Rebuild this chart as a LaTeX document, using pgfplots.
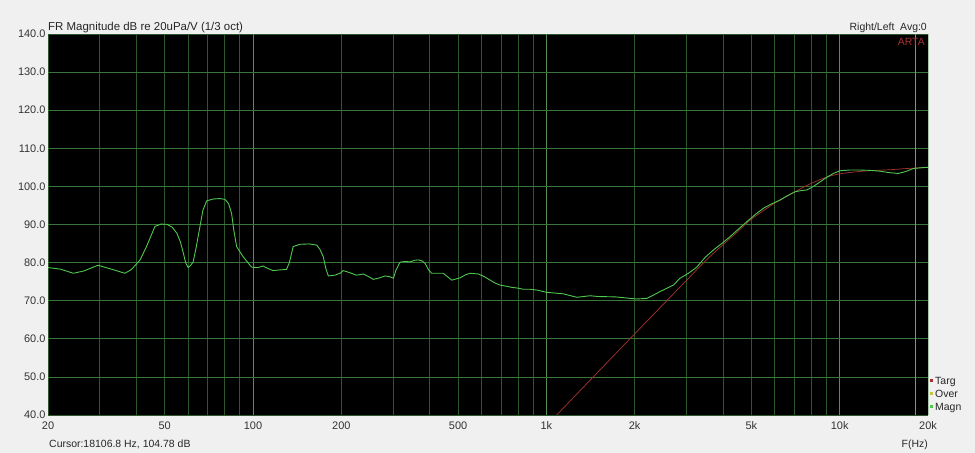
\documentclass[border=0pt]{standalone}
\usepackage{fontspec}
\setmainfont{Liberation Sans}
\usepackage{pgfplots}
\pgfplotsset{compat=1.18}
\definecolor{bgc}{HTML}{F0F0F0}
\definecolor{gridc}{HTML}{2B582B}
\definecolor{gridh}{HTML}{3A763A}
\definecolor{gridd}{HTML}{558D55}
\definecolor{magn}{HTML}{4FC84F}
\definecolor{targ}{HTML}{A83232}
\definecolor{over}{HTML}{C8C040}
\definecolor{curs}{HTML}{9C8E64}
\begin{document}
\begin{tikzpicture}
\fill[bgc] (0,0) rectangle (975bp,453bp);
\begin{axis}[
  at={(48bp,38bp)}, anchor=south west,
  scale only axis, width=880bp, height=381bp,
  xmode=log, xmin=20, xmax=20000, ymin=40, ymax=140,
  axis background/.style={fill=black},
  axis line style={draw=none},
  tick style={draw=none},
  xtick={20,50,100,200,500,1000,2000,5000,10000,20000},
  xticklabels={20,50,100,200,500,1k,2k,5k,10k,20k},
  minor xtick={30,40,60,70,80,90,300,400,600,700,800,900,3000,4000,6000,7000,8000,9000},
  ytick={40,50,...,140},
  yticklabel={\pgfmathprintnumber[fixed,fixed zerofill,precision=1]{\tick}},
  /pgf/number format/assume math mode=true,
  ticklabel style={font=\fontsize{11}{13}\selectfont, text=black!80},
  xticklabel style={yshift=-3bp},
  yticklabel style={xshift=1bp},
  grid=both,
  major grid style={gridc, line width=0.6bp},
  minor grid style={gridc, line width=0.6bp},
  extra x ticks={100,1000,10000},
  extra x tick labels={},
  extra x tick style={grid=major, major grid style={gridd, line width=0.7bp}},
  extra y ticks={50,60,...,130},
  extra y tick labels={},
  extra y tick style={grid=major, major grid style={gridh, line width=0.7bp}},
  clip=true,
]
% cursor line
\addplot[curs, line width=0.7bp] coordinates {(18106.8,40) (18106.8,140)};
% target
\addplot[targ, line width=0.7bp, smooth] coordinates {
(1084,40) (1500,51.3) (2000,61.3) (2500,69.0) (3000,75.3) (3500,80.6)
(4000,84.7) (4500,88.2) (5000,91.4) (6000,95.6) (7000,98.5) (8000,100.8)
(9000,102.4) (10000,103.3) (12000,104.0) (15000,104.4) (17000,104.7) (20000,105.0)};
% magnitude
\addplot[magn, line width=0.9bp] coordinates {
(20,78.7) (22,78.3) (24.4,77.2) (26.5,77.8) (29.6,79.3) (32.5,78.4) (36.6,77.2)
(38.5,78.2) (41.2,80.7) (43.5,84.5) (46.3,89.5) (48.5,90.1) (50.8,90.05)
(53,89.3) (55,87.7) (56.5,85.5) (57.9,82.4) (59,79.8) (60.1,78.7) (61.2,79.2)
(62.5,80.2) (64,84) (65.9,89.4) (67.5,93.8) (69.5,96.2) (73.2,96.7) (77,96.8)
(80.2,96.6) (82.5,95.5) (84.5,92.9) (86,88.5) (87.9,84.2) (92.6,81.5) (98.9,78.8)
(104,78.7) (108,79.1) (112,78.5) (117,77.9) (124,78.1) (130,78.2) (133,80)
(137,84.2) (144.5,84.8) (155,84.9) (164.8,84.6) (169,83.5) (173.6,81.5)
(177,78.5) (180.6,76.5) (190,76.7) (198,77.2) (203,77.9) (213,77.4) (225,76.7)
(238,77.0) (248,76.3) (257,75.6) (270,76.0) (282,76.5) (292,76.3) (301,75.9)
(307,78) (317,80.1) (330,80.3) (343,80.2) (356,80.6) (366,80.7) (376,80.5)
(386,79.8) (396,78.2) (406,77.2) (425,77.2) (445,77.2) (460,76.3) (476,75.4)
(508,76.0) (530,76.8) (550,77.2) (587,77.0) (615,76.3) (643,75.4) (670,74.6)
(695,74.1) (730,73.8) (762,73.5) (800,73.3) (835,73.0) (880,73.0) (927,72.8)
(1002,72.2) (1070,72.0) (1143,71.8) (1210,71.3) (1269,70.9) (1340,71.1)
(1409,71.3) (1500,71.1) (1606,71.05) (1720,71.0) (1830,70.8) (1930,70.6)
(2032,70.45) (2199,70.6) (2320,71.5) (2441,72.4) (2580,73.3) (2710,74.1)
(2856,75.9) (3050,77.2) (3256,78.8) (3480,81.4) (3710,83.3) (3960,85.0)
(4229,86.8) (4500,88.7) (4819,90.7) (5150,92.6) (5492,94.25) (5850,95.4)
(6259,96.4) (6650,97.6) (7045,98.6) (7400,98.9) (7721,99.05) (8100,99.9)
(8575,101.2) (9000,102.3) (9513,103.4) (10020,104.1) (10800,104.3) (11720,104.3)
(12700,104.2) (13710,104.0) (14800,103.6) (15840,103.4) (16800,103.9)
(17830,104.7) (19000,104.9) (20000,105.0)};
\end{axis}
% right border
\draw[line width=0.8bp, gridd!50!white] (928bp,38bp) -- (928bp,419bp);
% texts
\node[anchor=base west, font=\fontsize{11.5}{13}\selectfont, text=black!85, inner sep=0pt] at (48bp,422bp) {FR Magnitude dB re 20uPa/V (1/3 oct)};
\node[anchor=base east, font=\fontsize{10.5}{12}\selectfont, text=black!85, inner sep=0pt] at (927bp,422bp) {Right/Left\ \ Avg:0};
\node[anchor=base east, font=\fontsize{10.5}{12}\selectfont, text=targ, inner sep=0pt] at (925bp,407bp) {ARTA};
\node[anchor=base west, font=\fontsize{10.5}{12}\selectfont, text=black!85, inner sep=0pt] at (49bp,6bp) {Cursor:18106.8 Hz, 104.78 dB};
\node[anchor=base east, font=\fontsize{10.5}{12}\selectfont, text=black!85, inner sep=0pt] at (928bp,6bp) {F(Hz)};
\fill[targ] (930bp,70.5bp) rectangle (933bp,73.5bp);
\node[anchor=base west, font=\fontsize{10.5}{12}\selectfont, text=black!85, inner sep=0pt] at (935bp,68bp) {Targ};
\fill[over] (930bp,57.5bp) rectangle (933bp,60.5bp);
\node[anchor=base west, font=\fontsize{10.5}{12}\selectfont, text=black!85, inner sep=0pt] at (935bp,55bp) {Over};
\fill[magn] (930bp,44.5bp) rectangle (933bp,47.5bp);
\node[anchor=base west, font=\fontsize{10.5}{12}\selectfont, text=black!85, inner sep=0pt] at (935bp,42bp) {Magn};
\end{tikzpicture}
\end{document}
